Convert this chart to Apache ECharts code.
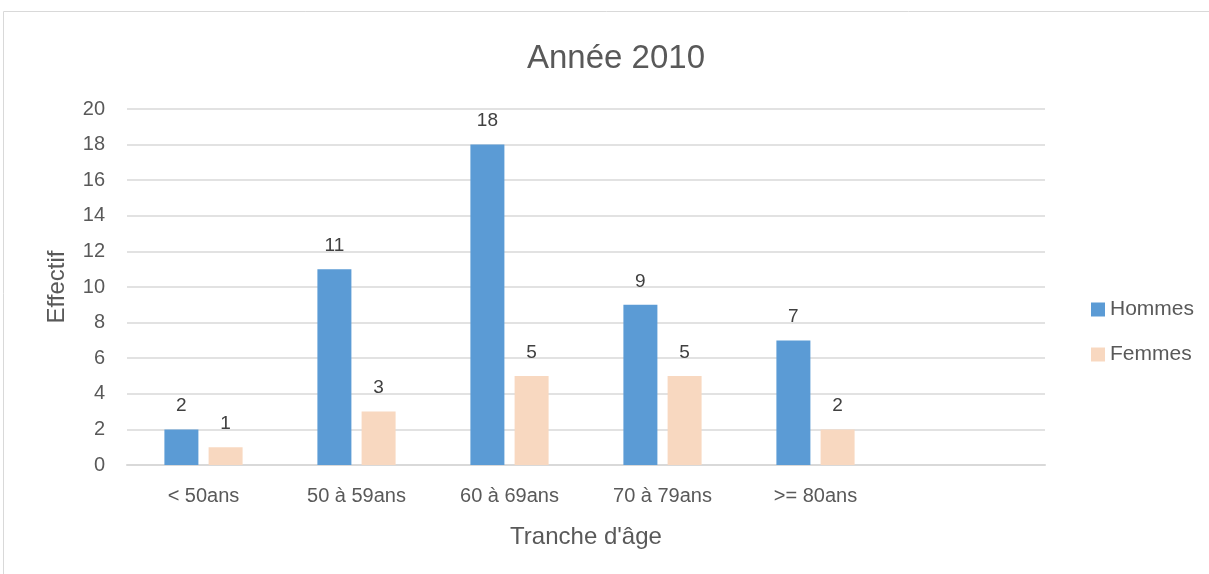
<!DOCTYPE html>
<html>
<head>
<meta charset="utf-8">
<script src="https://cdn.jsdelivr.net/npm/echarts@6/dist/echarts.min.js"></script>
<style>
  html, body { margin: 0; padding: 0; background: #fff; }
  #chart { width: 1209px; height: 574px; }
</style>
</head>
<body>
<div id="chart"></div>
<script>
// tranches d'âge (the last slot is left empty, like in the original sheet)
const categories = ['< 50ans', '50 à 59ans', '60 à 69ans', '70 à 79ans', '>= 80ans', ''];
const hommes = [2, 11, 18, 9, 7, null];
const femmes = [1, 3, 5, 5, 2, null];
const yTicks = [0, 2, 4, 6, 8, 10, 12, 14, 16, 18, 20];

const font = '"Liberation Sans", sans-serif';
const chart = echarts.init(document.getElementById('chart'));

const labelStyle = {
  show: true,
  position: 'top',
  distance: 14,
  color: '#404040',
  fontSize: 19,
  fontFamily: font
};

const option = {
  animation: false,
  title: {
    text: 'Année 2010',
    left: 522,
    top: 37,
    textStyle: { color: '#595959', fontSize: 33, fontWeight: 'normal', fontFamily: font }
  },
  graphic: [{
    type: 'rect',
    shape: { x: 3.5, y: 11.5, width: 1220, height: 600 },
    style: { fill: 'none', stroke: '#d9d9d9', lineWidth: 1 },
    silent: true
  }],
  legend: {
    orient: 'vertical',
    left: 1086,
    top: 294,
    itemWidth: 14,
    itemHeight: 14,
    itemGap: 24,
    icon: 'rect',
    textStyle: { color: '#595959', fontSize: 21, fontFamily: font }
  },
  grid: { left: 127, right: 164, top: 109, bottom: 109 },
  xAxis: {
    type: 'category',
    data: categories,
    name: "Tranche d'âge",
    nameLocation: 'middle',
    nameGap: 60,
    nameTextStyle: { color: '#595959', fontSize: 24, fontFamily: font },
    axisLine: { lineStyle: { color: '#d9d9d9', width: 2 } },
    axisTick: { show: false },
    axisLabel: { color: '#595959', fontSize: 20, fontFamily: font, margin: 21 }
  },
  yAxis: {
    type: 'value',
    min: yTicks[0],
    max: yTicks[yTicks.length - 1],
    interval: 2,
    name: 'Effectif',
    nameLocation: 'middle',
    nameGap: 58,
    nameTextStyle: { color: '#595959', fontSize: 24, fontFamily: font },
    axisLine: { show: false },
    axisTick: { show: false },
    splitLine: { lineStyle: { color: '#d9d9d9', width: 1.5 } },
    axisLabel: { color: '#595959', fontSize: 20, fontFamily: font, margin: 22 }
  },
  series: [
    {
      name: 'Hommes',
      type: 'bar',
      data: hommes,
      barWidth: 34,
      barGap: '30%',
      itemStyle: { color: '#5b9bd5' },
      label: labelStyle
    },
    {
      name: 'Femmes',
      type: 'bar',
      data: femmes,
      barWidth: 34,
      itemStyle: { color: '#f8d8c0' },
      label: labelStyle
    }
  ]
};

chart.setOption(option);
</script>
</body>
</html>
